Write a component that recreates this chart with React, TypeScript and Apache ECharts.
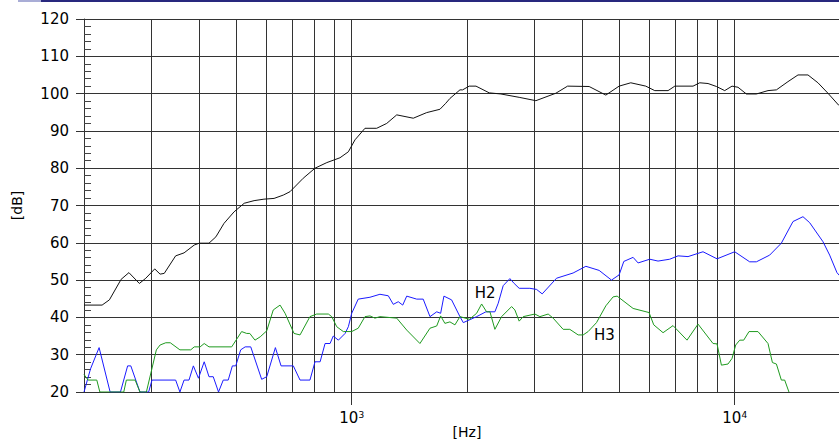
import React, { useEffect, useRef } from "react";
import * as echarts from "echarts";

// Frequency response (black)
const responseCurve: [number, number][] = [
  [200, 43.3], [223, 43.3], [233, 44.7], [250, 50.2], [262, 52], [279, 49.1], [290, 50.5], [306, 53],
  [316, 51.6], [324, 51.8], [347, 56.5], [365, 57.3], [388, 59.4], [400, 59.9], [424, 59.9], [442, 61.6],
  [464, 65.2], [493, 68.3], [524, 70.6], [556, 71.3], [590, 71.7], [627, 71.9], [663, 72.8], [690, 73.7],
  [747, 77.3], [802, 80], [861, 81.5], [932, 82.8], [980, 84.4], [1020, 87.6], [1083, 90.7], [1162, 90.7],
  [1234, 92], [1311, 94.3], [1448, 93.4], [1569, 94.9], [1700, 95.8], [1760, 97.4], [1805, 98.7], [1917, 101],
  [1948, 101], [2027, 102], [2111, 102], [2286, 100.2], [2452, 99.9], [2737, 99], [3026, 98.1], [3412, 100.1],
  [3661, 102], [4168, 101.9], [4608, 99.6], [4991, 102], [5354, 102.9], [5859, 102], [6184, 100.8], [6699, 100.8],
  [6977, 102], [7785, 102], [8105, 102.9], [8519, 102.7], [8961, 101.9], [9417, 100.8], [9840, 102], [10200, 101.7],
  [10727, 99.9], [11391, 99.9], [12217, 100.8], [12849, 101], [13772, 103.2], [14630, 105], [15535, 105],
  [16496, 102.9], [17516, 100.1], [18680, 96.9], [20000, 94],
];

// 2nd harmonic distortion (blue)
const h2Curve: [number, number][] = [
  [200, 20], [208, 26.2], [219, 31.9], [234, 20], [249, 20], [260, 27], [265, 27], [280, 20], [295, 20],
  [301, 23.2], [347, 23.2], [356, 20], [365, 23.2], [376, 23.2], [386, 27], [398, 23.7], [412, 28.1],
  [424, 24.1], [435, 24.1], [449, 20], [462, 23.2], [476, 23.2], [488, 27], [498, 27], [513, 31.3],
  [527, 32.1], [545, 32.1], [582, 23.4], [600, 24.1], [632, 31.9], [654, 27], [704, 27], [733, 23.2],
  [778, 23.2], [802, 28.1], [827, 28.1], [852, 33], [878, 33], [895, 35], [923, 33.9], [961, 35.7],
  [980, 37.5], [1000, 41.1], [1040, 44.9], [1116, 45.4], [1185, 46.2], [1246, 45.8], [1284, 43.5],
  [1323, 44.2], [1359, 43.3], [1392, 45.7], [1478, 44.9], [1537, 44.9], [1601, 40.2], [1667, 41.5],
  [1707, 41.1], [1741, 45.7], [1823, 44.7], [1917, 40.2], [1956, 38.6], [2119, 40.2], [2241, 41.5],
  [2365, 41.5], [2413, 43.8], [2486, 48.5], [2588, 50.4], [2656, 49.1], [2737, 47.8], [2919, 47.8],
  [3039, 47.5], [3143, 46.3], [3426, 50.5], [3785, 51.9], [4087, 53.7], [4426, 52.6], [4768, 50],
  [4991, 51.4], [5134, 55], [5429, 56.1], [5594, 54.6], [6000, 55.6], [6307, 55.1], [6767, 55.6],
  [7113, 56.5], [7553, 56.3], [8265, 57.6], [8992, 55.7], [10000, 57.6], [10942, 54.9], [11391, 54.9],
  [12340, 56.7], [13237, 59.9], [14197, 65.7], [15075, 67], [15694, 65.4], [17000, 60.3], [17699, 56.7],
  [18490, 52], [20000, 48],
];

// 3rd harmonic distortion (green)
const h3Curve: [number, number][] = [
  [200, 24.7], [205, 23.2], [216, 23.2], [220, 20], [254, 20], [258, 23.2], [272, 23.2], [280, 20],
  [291, 20], [309, 31.3], [316, 32.6], [327, 33.2], [336, 33.2], [356, 31.3], [380, 31.3], [388, 32.1],
  [402, 32.1], [412, 33], [424, 32.1], [486, 32.1], [516, 36.2], [532, 35.7], [542, 35.7], [559, 33.9],
  [577, 34.8], [600, 36.4], [624, 42], [650, 43.3], [670, 41.1], [707, 35.7], [733, 35.3], [778, 40.2],
  [810, 40.9], [869, 40.9], [887, 40.2], [914, 37.5], [951, 36.2], [1000, 36.2], [1040, 37.1], [1083, 40.2],
  [1116, 40.4], [1150, 39.8], [1185, 40.2], [1311, 39.8], [1392, 36.6], [1507, 33], [1601, 37.1],
  [1667, 37.7], [1707, 40.4], [1751, 38.4], [1805, 38.8], [1860, 38], [1917, 40.2], [2030, 39.5],
  [2119, 41.1], [2184, 43.6], [2250, 41.5], [2296, 41.5], [2365, 36.8], [2462, 40.2], [2615, 42.9],
  [2667, 42], [2737, 39], [2804, 40.2], [3008, 40.9], [3100, 40.2], [3258, 40.9], [3357, 39.8],
  [3565, 36.8], [3711, 36.8], [3902, 35.3], [4021, 35.3], [4143, 36.2], [4357, 38.6], [4608, 43.1],
  [4814, 45.5], [4932, 45.7], [5429, 42.4], [5975, 41.3], [6147, 38], [6501, 35.9], [6902, 37.8],
  [7507, 33.9], [8022, 38.2], [8778, 33], [8992, 32.9], [9232, 27.2], [9605, 27.5], [9840, 29],
  [10060, 32.6], [10306, 33.9], [10556, 33.9], [10898, 36.2], [11502, 36.2], [12217, 33], [12544, 27.9],
  [12849, 27.5], [13237, 23.2], [13505, 23.2], [13857, 20],
];

const gridFreqs = [300, 400, 500, 600, 700, 800, 900, 1000, 2000, 3000, 4000, 5000, 6000, 7000, 8000, 9000, 10000];
const decadeLabels = [1000, 10000];
const h2LabelAt: [number, number] = [2230, 46.5];
const h3LabelAt: [number, number] = [4570, 35.3];

const FONT = "'DejaVu Sans', Arial, sans-serif";
const GRID = "#333";

export default function App() {
  const ref = useRef<HTMLDivElement>(null);
  useEffect(() => {
    if (!ref.current) return;
    const chart = echarts.init(ref.current, undefined, { renderer: "svg" });
    chart.setOption({
      animation: false,
      backgroundColor: "#fff",
      grid: { left: 84, top: 19, right: -11, bottom: 50, containLabel: false, outerBoundsMode: "none" },
      graphic: [
        { type: "rect", left: 18, top: 0, shape: { width: 23, height: 2 }, style: { fill: "#a9add6" } },
        { type: "rect", left: 41, top: 0, shape: { width: 798, height: 2 }, style: { fill: "#28287e" } },
      ],
      xAxis: {
        type: "log",
        logBase: 10,
        min: 200,
        max: 20000,
        name: "[Hz]",
        nameLocation: "middle",
        nameGap: 32,
        nameMoveOverlap: false,
        nameTextStyle: { fontFamily: FONT, fontSize: 14, color: "#000", lineHeight: 16, verticalAlign: "top" },
        axisLine: { show: true, lineStyle: { color: GRID, width: 1 } },
        axisTick: { show: true, length: 13, customValues: decadeLabels, lineStyle: { color: GRID } },
        axisLabel: {
          show: true,
          customValues: decadeLabels,
          margin: 18,
          formatter: (v: number) => {
            const e = Math.round(Math.log10(v));
            return "{a|10}{b|" + e + "}";
          },
          rich: {
            a: { fontFamily: FONT, fontSize: 15, color: "#000", lineHeight: 15 },
            b: { fontFamily: FONT, fontSize: 9, color: "#000", verticalAlign: "top", lineHeight: 9 },
          },
        },
        splitLine: { show: false },
        minorTick: { show: false },
      },
      yAxis: {
        type: "value",
        min: 20,
        max: 120,
        interval: 10,
        name: "[dB]",
        nameLocation: "middle",
        nameGap: 60,
        nameMoveOverlap: false,
        nameRotate: 90,
        nameTextStyle: { fontFamily: FONT, fontSize: 14, color: "#000" },
        axisLine: { show: true, lineStyle: { color: GRID, width: 1 } },
        axisTick: { show: true, length: 8, inside: false, lineStyle: { color: GRID } },
        minorTick: { show: true, splitNumber: 5, length: -7, lineStyle: { color: "#444" } },
        axisLabel: { fontFamily: FONT, fontSize: 15, color: "#000", margin: 15 },
        splitLine: { show: true, lineStyle: { color: GRID, width: 1 } },
      },
      series: [
        {
          type: "line",
          data: [],
          silent: true,
          z: 1,
          markLine: {
            silent: true,
            symbol: "none",
            animation: false,
            label: { show: false },
            lineStyle: { color: GRID, width: 1, type: "solid" },
            emphasis: { disabled: true },
            data: gridFreqs.map((f) => ({ xAxis: f })),
          },
        },
        {
          name: "SPL",
          type: "line",
          data: responseCurve,
          showSymbol: false,
          smooth: false,
          z: 10,
          lineStyle: { color: "#111", width: 1 },
        },
        {
          name: "H2",
          type: "line",
          data: h2Curve,
          showSymbol: false,
          z: 10,
          lineStyle: { color: "#1a1aff", width: 1 },
          markPoint: {
            symbol: "circle",
            symbolSize: 0,
            silent: true,
            label: { show: true, position: "inside", formatter: "H2", fontFamily: FONT, fontSize: 15, color: "#000" },
            data: [{ coord: h2LabelAt }],
          },
        },
        {
          name: "H3",
          type: "line",
          data: h3Curve,
          showSymbol: false,
          z: 10,
          lineStyle: { color: "#1f9a1f", width: 1 },
          markPoint: {
            symbol: "circle",
            symbolSize: 0,
            silent: true,
            label: { show: true, position: "inside", formatter: "H3", fontFamily: FONT, fontSize: 15, color: "#000" },
            data: [{ coord: h3LabelAt }],
          },
        },
      ],
    });
    return () => chart.dispose();
  }, []);
  return (
    <div
      style={{
        position: "fixed",
        left: 0,
        top: 0,
        width: 839,
        height: 442,
        overflow: "hidden",
        background: "#fff",
      }}
    >
      <div ref={ref} style={{ width: 839, height: 442, overflow: "hidden" }} />
    </div>
  );
}
